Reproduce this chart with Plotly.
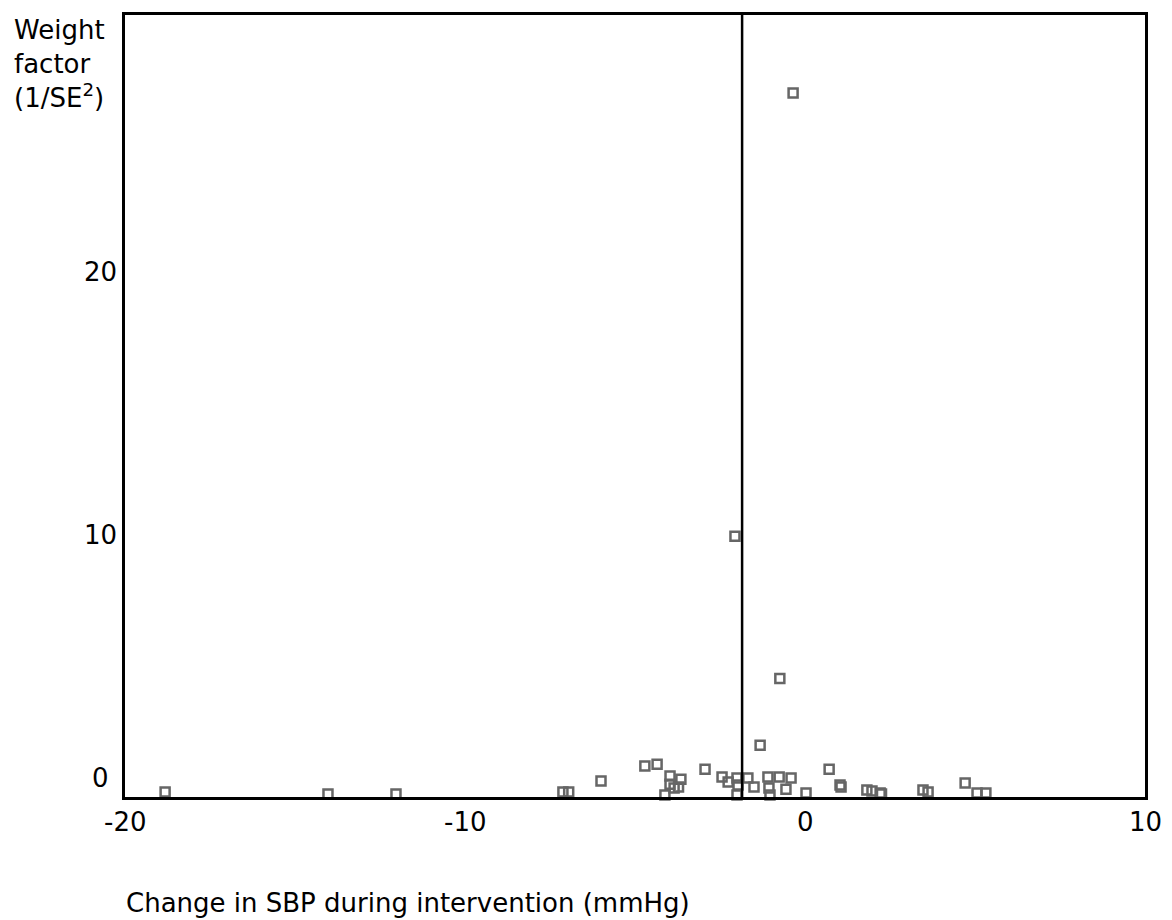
import plotly.graph_objects as go

# Change in SBP during intervention (mmHg)
sbp_change = [
    -18.82, -14.03, -12.03, -7.12, -6.95, -6.00, -4.71, -4.35,
    -3.97, -3.65, -3.97, -3.85, -3.72, -4.12,
    -2.94, -2.44, -2.26, -2.00, -1.97, -2.00, -1.68, -1.50,
    -2.06, -1.32, -0.74, -1.09, -1.06, -1.03, -0.76, -0.56, -0.41,
    0.03, 0.71, 1.03, 1.06, 1.09, 1.82, 1.97, 2.21, 2.25,
    3.47, 3.62, 4.71, 5.06, 5.32, -0.35,
]
# Weight factor (1/SE^2)
weight = [
    0.19, 0.11, 0.11, 0.19, 0.19, 0.61, 1.18, 1.25,
    0.80, 0.68, 0.49, 0.34, 0.38, 0.08,
    1.06, 0.76, 0.57, 0.72, 0.46, 0.08, 0.72, 0.38,
    9.94, 1.97, 4.52, 0.76, 0.34, 0.08, 0.76, 0.30, 0.72,
    0.15, 1.06, 0.46, 0.38, -0.04, 0.27, 0.23, 0.15, 0.11,
    0.27, 0.19, 0.53, 0.15, 0.15, 26.83,
]
pooled_effect = -1.85

x_ticks = [-20, -10, 0, 10]
y_ticks = [0, 10, 20]

FONT = "DejaVu Sans"
FS = 26

fig = go.Figure()
fig.add_trace(go.Scatter(
    x=sbp_change, y=weight, mode="markers",
    marker=dict(symbol="square-open", size=9, color="#666666",
                line=dict(width=2.5, color="#666666")),
    cliponaxis=False, showlegend=False,
))

fig.add_shape(type="line", xref="x", yref="paper",
              x0=pooled_effect, x1=pooled_effect, y0=0, y1=1,
              line=dict(color="black", width=2.5))

annotations = []
for t in x_ticks:
    annotations.append(dict(x=t, y=0, xref="x", yref="y", text=str(t),
                            showarrow=False, xanchor="center", yanchor="middle",
                            yshift=-25, font=dict(family=FONT, size=FS, color="black")))
for t in y_ticks:
    annotations.append(dict(x=0, y=t, xref="paper", yref="y", text=str(t),
                            showarrow=False, xanchor="center", yanchor="middle",
                            xshift=-25, yshift=(19 if t == 0 else 0),
                            font=dict(family=FONT, size=FS, color="black")))
annotations.append(dict(x=0, y=1, xref="paper", yref="paper",
                        text="Weight<br>factor<br>(1/SE<sup>2</sup>)", align="left",
                        showarrow=False, xanchor="left", yanchor="top",
                        xshift=-113, yshift=2,
                        font=dict(family=FONT, size=FS, color="black")))
annotations.append(dict(x=0, y=0, xref="paper", yref="paper",
                        text="Change in SBP during intervention (mmHg)",
                        showarrow=False, xanchor="left", yanchor="middle",
                        xshift=-1, yshift=-106,
                        font=dict(family=FONT, size=FS, color="black")))

fig.update_layout(
    width=1172, height=920,
    margin=dict(l=125, r=27, t=12, b=123),
    paper_bgcolor="white", plot_bgcolor="white",
    font=dict(family=FONT, size=FS, color="black"),
    annotations=annotations,
    xaxis=dict(range=[-20, 10], showgrid=False, zeroline=False,
               showticklabels=False, ticks="", showline=True, mirror=True,
               linecolor="black", linewidth=2.5),
    yaxis=dict(range=[0, 29.8], showgrid=False, zeroline=False,
               showticklabels=False, ticks="", showline=True, mirror=True,
               linecolor="black", linewidth=2.5),
)

fig.write_html("out.html")
